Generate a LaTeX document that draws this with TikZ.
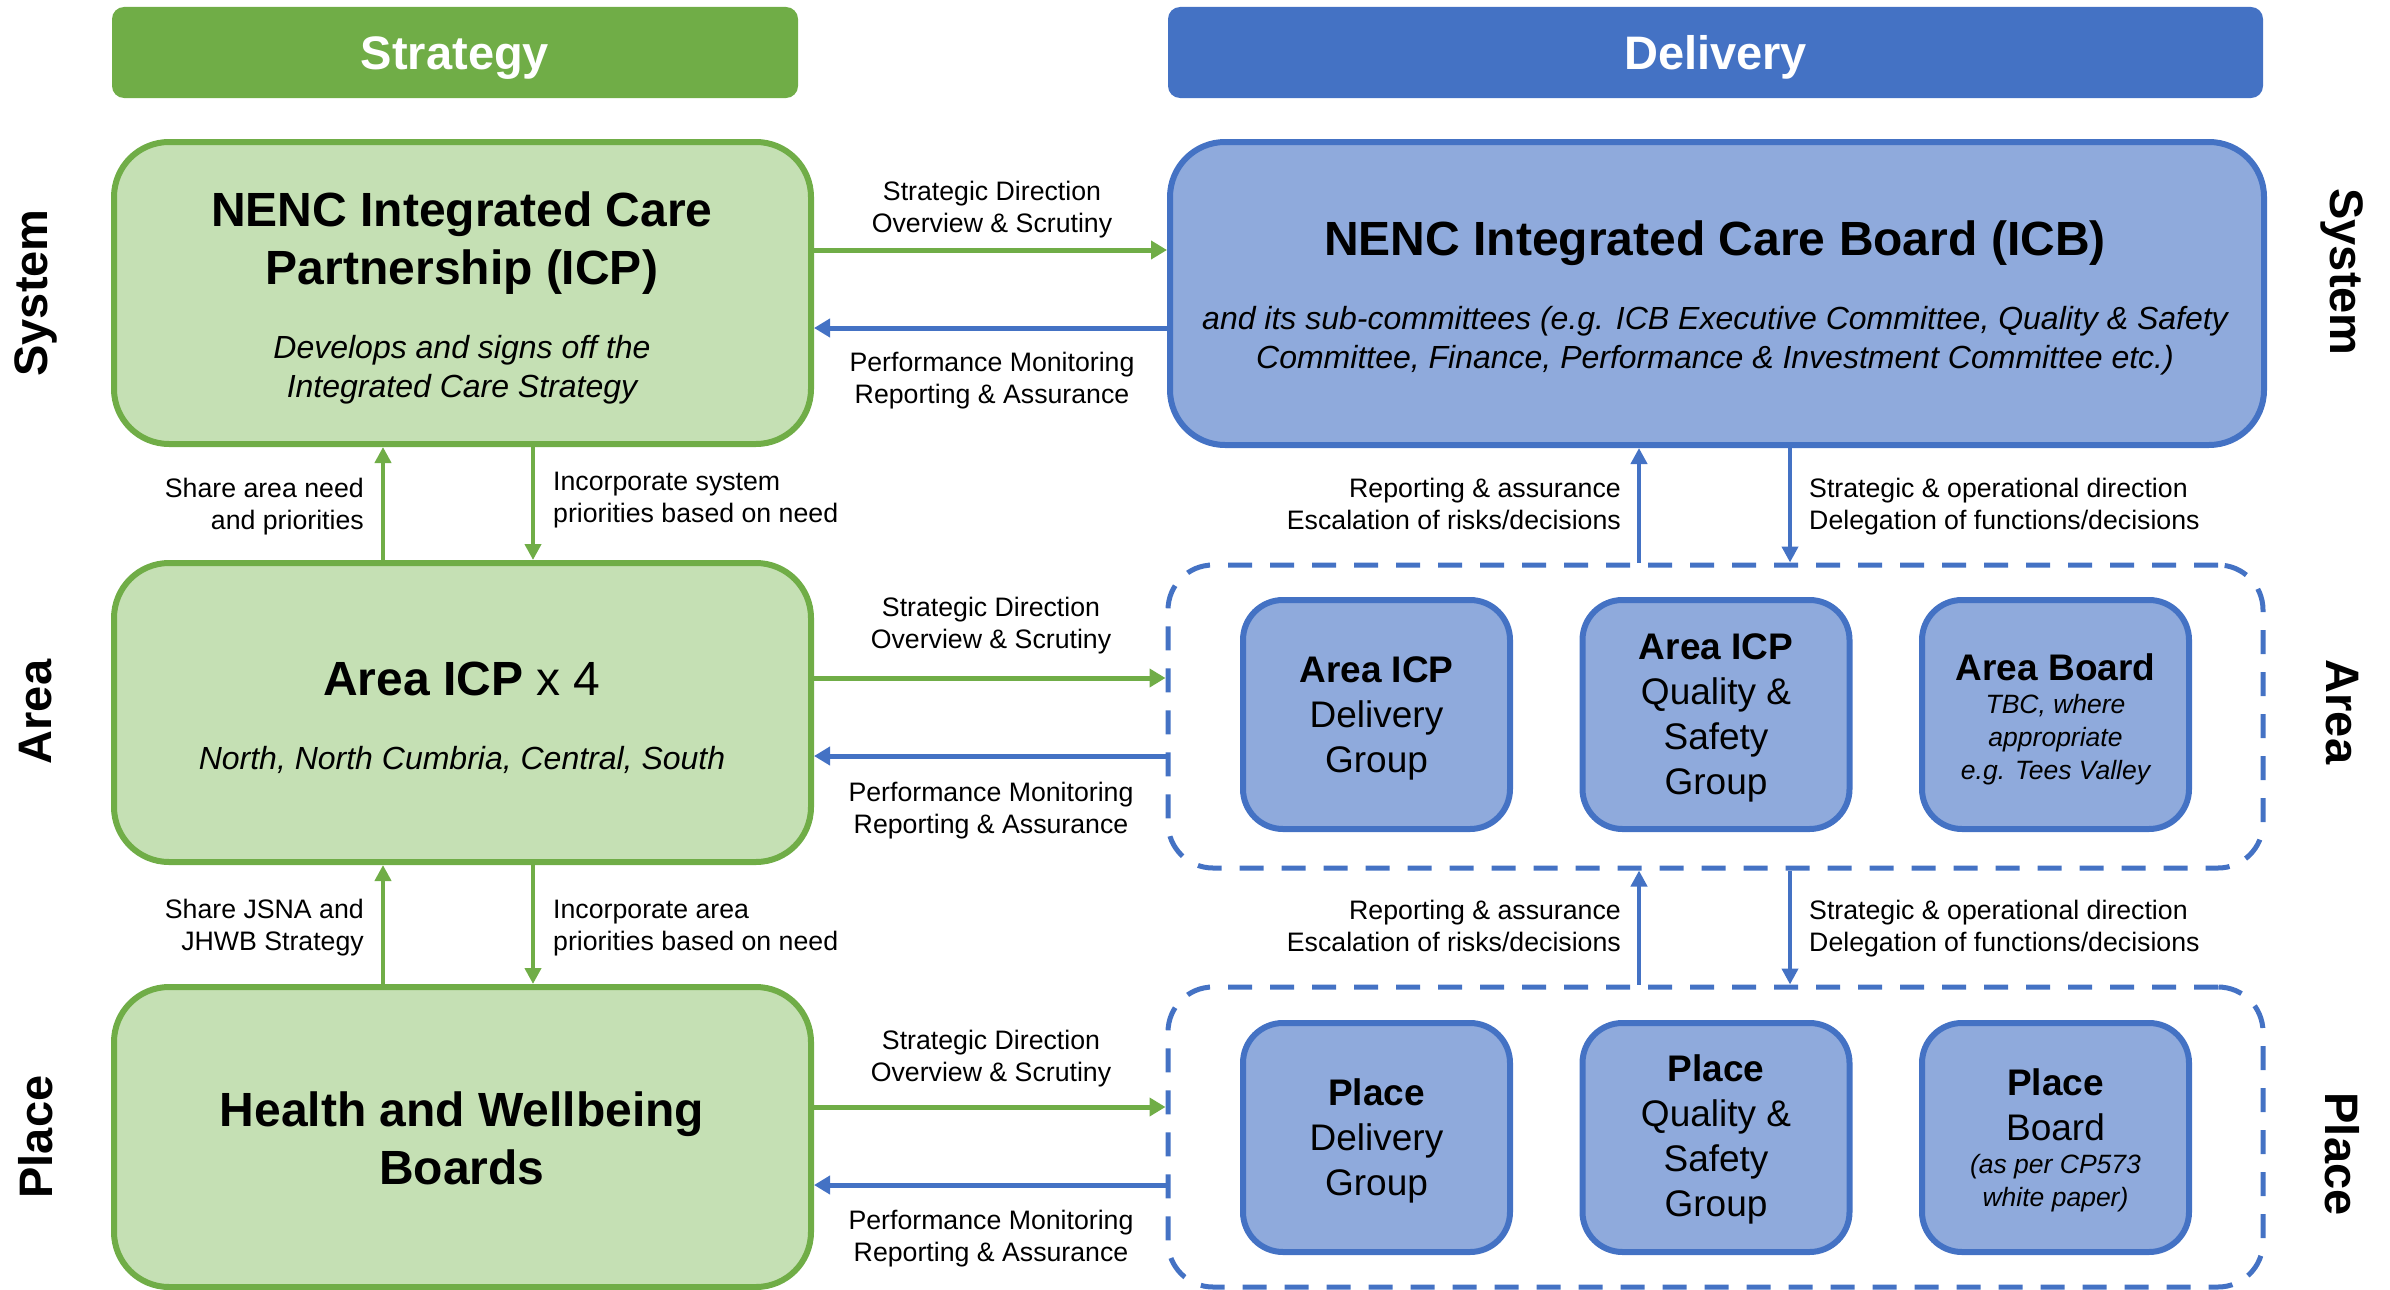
\documentclass[tikz,border=0pt]{standalone}
\usepackage{fontspec}
\setmainfont{Liberation Sans}
\usetikzlibrary{arrows.meta}
\definecolor{gdark}{HTML}{70AD47}
\definecolor{glight}{HTML}{C5E0B4}
\definecolor{bdark}{HTML}{4472C4}
\definecolor{blight}{HTML}{8FAADC}
\tikzset{
  hdr/.style={rounded corners=12pt, minimum height=91pt, inner sep=0pt, text=white, text height=34pt, text depth=0pt, font=\fontsize{47}{56}\selectfont\bfseries},
  gbox/.style={draw=gdark, fill=glight, line width=6pt, rounded corners=55pt, minimum width=697pt, inner sep=0pt},
  bbox/.style={draw=bdark, fill=blight, line width=6pt, rounded corners=55pt, inner sep=0pt},
  dbox/.style={draw=bdark, line width=5pt, dash pattern=on 24pt off 18pt, rounded corners=45pt, minimum width=1095pt, inner sep=0pt},
  sbox/.style={draw=bdark, fill=blight, line width=6pt, rounded corners=40pt, minimum width=267pt, minimum height=229pt, inner sep=0pt},
  ttl/.style={font=\fontsize{48}{58}\selectfont\bfseries, align=center, inner sep=0pt},
  subt/.style={font=\fontsize{32}{39}\selectfont\itshape, align=center, inner sep=0pt},
  lbl/.style={font=\fontsize{26.7}{32}\selectfont, inner sep=0pt},
  sbt/.style={font=\fontsize{37}{45}\selectfont, align=center, inner sep=0pt},
  sit/.style={font=\fontsize{26.5}{33}\selectfont\itshape, align=center, inner sep=0pt},
  rowlbl/.style={font=\fontsize{47}{56}\selectfont\bfseries, inner sep=0pt},
  garrow/.style={draw=gdark, line width=5pt, -{Triangle[length=16pt,width=18pt]}},
  barrow/.style={draw=bdark, line width=5pt, -{Triangle[length=16pt,width=18pt]}},
  gvarrow/.style={draw=gdark, line width=4.5pt, -{Triangle[length=16pt,width=16pt]}},
  bvarrow/.style={draw=bdark, line width=4.5pt, -{Triangle[length=16pt,width=16pt]}},
}
\begin{document}
\begin{tikzpicture}[x=1pt,y=-1pt]
\useasboundingbox (0,0) rectangle (2390,1290);
% headers
\node[hdr, fill=gdark, minimum width=686pt] (hs) at (455,52.5) {Strategy};
\node[hdr, fill=bdark, minimum width=1095pt] (hd) at (1715.5,52.5) {Delivery};
% strategy boxes
\node[gbox, minimum height=302pt] (icp) at (462.5,293) {};
\node[gbox, minimum height=299pt] (aicp) at (462.5,712.5) {};
\node[gbox, minimum height=300pt] (hwb) at (462.5,1137) {};
% delivery boxes
\node[bbox, minimum width=1094pt, minimum height=303pt] (icb) at (1717,293.5) {};
\node[dbox, minimum height=303pt] (adash) at (1715.5,716.5) {};
\node[dbox, minimum height=300pt] (pdash) at (1715.5,1137) {};
\node[sbox] (a1) at (1376.5,714.5) {};
\node[sbox] (a2) at (1716,714.5) {};
\node[sbox] (a3) at (2055.5,714.5) {};
\node[sbox] (p1) at (1376.5,1137.5) {};
\node[sbox] (p2) at (1716,1137.5) {};
\node[sbox] (p3) at (2055.5,1137.5) {};
% texts in strategy boxes
\node[ttl] (icpt) at (462,243) {NENC Integrated Care\\Partnership (ICP)};
\node[subt] (icps) at (462,370) {Develops and signs off the\\Integrated Care Strategy};
\node[ttl] (aicpt) at (462,679) {Area ICP\mdseries\ x 4};
\node[subt] (aicps) at (462,760) {North, North Cumbria, Central, South};
\node[ttl] (hwbt) at (462,1138) {Health and Wellbeing\\Boards};
% texts in delivery boxes
\node[ttl] (icbt) at (1715,243) {NENC Integrated Care Board (ICB)};
\node[subt] (icbs) at (1715,341) {and its sub-committees (e.g. ICB Executive Committee, Quality \& Safety\\Committee, Finance, Performance \& Investment Committee etc.)};
\node[sbt] (a1t) at (1376.5,718) {\textbf{Area ICP}\\Delivery\\Group};
\node[sbt] (a2t) at (1716,717.5) {\textbf{Area ICP}\\Quality \&\\Safety\\Group};
\node[sbt] (a3t) at (2055.5,667.5) {\textbf{Area Board}};
\node[sit] (a3s) at (2055.5,740) {TBC, where\\appropriate\\e.g. Tees Valley};
\node[sbt] (p1t) at (1376.5,1140.5) {\textbf{Place}\\Delivery\\Group};
\node[sbt] (p2t) at (1716,1139.5) {\textbf{Place}\\Quality \&\\Safety\\Group};
\node[sbt] (p3t) at (2055.5,1105) {\textbf{Place}\\Board};
\node[sit] (p3s) at (2055.5,1183.5) {(as per CP573\\white paper)};
% horizontal connector labels
\node[lbl, align=center] (sd1) at (992,210) {Strategic Direction\\Overview \& Scrutiny};
\node[lbl, align=center] (pm1) at (992,381) {Performance Monitoring\\Reporting \& Assurance};
\node[lbl, align=center] (sd2) at (991,626) {Strategic Direction\\Overview \& Scrutiny};
\node[lbl, align=center] (pm2) at (991,811) {Performance Monitoring\\Reporting \& Assurance};
\node[lbl, align=center] (sd3) at (991,1059) {Strategic Direction\\Overview \& Scrutiny};
\node[lbl, align=center] (pm3) at (991,1239) {Performance Monitoring\\Reporting \& Assurance};
% vertical connector labels
\node[lbl, align=right, anchor=east] (sh1) at (364,506.5) {Share area need\\and priorities};
\node[lbl, align=left, anchor=west] (in1) at (553,500.5) {Incorporate system\\priorities based on need};
\node[lbl, align=right, anchor=east] (sh2) at (364,927.5) {Share JSNA and\\JHWB Strategy};
\node[lbl, align=left, anchor=west] (in2) at (553,928.5) {Incorporate area\\priorities based on need};
\node[lbl, align=right, anchor=east] (ra1) at (1621,503.5) {Reporting \& assurance\\Escalation of risks/decisions};
\node[lbl, align=left, anchor=west] (so1) at (1809,506.5) {Strategic \& operational direction\\Delegation of functions/decisions};
\node[lbl, align=right, anchor=east] (ra2) at (1621,925.5) {Reporting \& assurance\\Escalation of risks/decisions};
\node[lbl, align=left, anchor=west] (so2) at (1809,928.5) {Strategic \& operational direction\\Delegation of functions/decisions};
% row labels
\node[rowlbl, rotate=90] (sysl) at (36,293) {System};
\node[rowlbl, rotate=90] (areal) at (36,712) {Area};
\node[rowlbl, rotate=90] (placel) at (36,1137) {Place};
\node[rowlbl, rotate=-90] (sysr) at (2342,272) {System};
\node[rowlbl, rotate=-90] (arear) at (2342,712) {Area};
\node[rowlbl, rotate=-90] (placer) at (2342,1154) {Place};
% level coordinates
\coordinate (y1g) at (0,250);
\coordinate (y1b) at (0,328);
\coordinate (y2g) at (0,678);
\coordinate (y2b) at (0,756);
\coordinate (y3g) at (0,1107);
\coordinate (y3b) at (0,1185);
\coordinate (xl1) at (383,0);
\coordinate (xl2) at (533,0);
\coordinate (xr1) at (1639,0);
\coordinate (xr2) at (1790,0);
% horizontal connectors
\draw[garrow] (icp.east |- y1g) -- (icb.west |- y1g);
\draw[barrow] (icb.west |- y1b) -- (icp.east |- y1b);
\draw[garrow] (aicp.east |- y2g) -- (adash.west |- y2g);
\draw[barrow] (adash.west |- y2b) -- (aicp.east |- y2b);
\draw[garrow] (hwb.east |- y3g) -- (pdash.west |- y3g);
\draw[barrow] (pdash.west |- y3b) -- (hwb.east |- y3b);
% vertical connectors
\draw[gvarrow] (aicp.north -| xl1) -- (icp.south -| xl1);
\draw[gvarrow] (icp.south -| xl2) -- (aicp.north -| xl2);
\draw[gvarrow] (hwb.north -| xl1) -- (aicp.south -| xl1);
\draw[gvarrow] (aicp.south -| xl2) -- (hwb.north -| xl2);
\draw[bvarrow] (adash.north -| xr1) -- (icb.south -| xr1);
\draw[bvarrow] (icb.south -| xr2) -- (adash.north -| xr2);
\draw[bvarrow] (pdash.north -| xr1) -- (adash.south -| xr1);
\draw[bvarrow] (adash.south -| xr2) -- (pdash.north -| xr2);
\end{tikzpicture}
\end{document}
